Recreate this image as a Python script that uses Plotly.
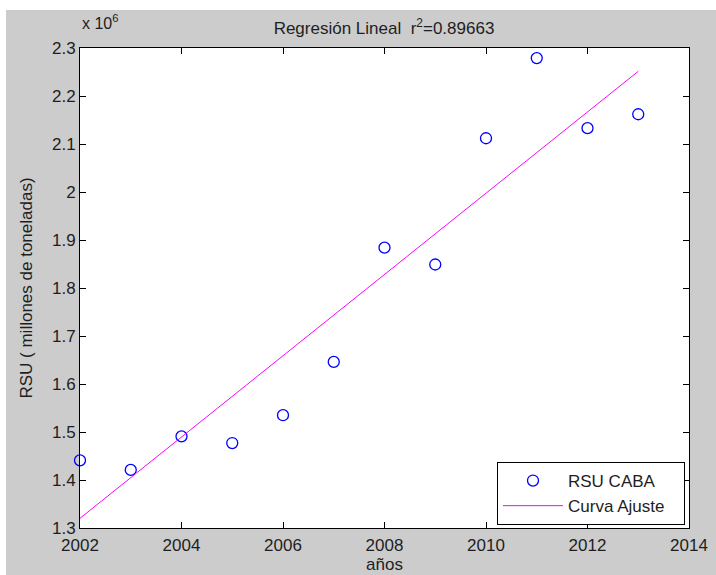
import numpy as np
import plotly.graph_objects as go

# Municipal solid waste (RSU) collected in CABA, tonnes per year
years = [2002, 2003, 2004, 2005, 2006, 2007, 2008, 2009, 2010, 2011, 2012, 2013]
rsu_tonnes = [1441000, 1421000, 1491000, 1477000, 1535000, 1646000,
              1884000, 1849000, 2112000, 2279000, 2133000, 2162000]

x_ticks = [2002, 2004, 2006, 2008, 2010, 2012, 2014]
y_ticks = [1.3, 1.4, 1.5, 1.6, 1.7, 1.8, 1.9, 2.0, 2.1, 2.2, 2.3]
y_tick_text = ["1.3", "1.4", "1.5", "1.6", "1.7", "1.8", "1.9", "2", "2.1", "2.2", "2.3"]

title_text = "Regresión Lineal  r<sup>2</sup>=0.89663"

SCALE = 1e6
x = np.array(years, dtype=float)
y = np.array(rsu_tonnes, dtype=float) / SCALE

# least-squares linear fit
slope, intercept = np.polyfit(x, y, 1)
fit_y = slope * x + intercept

W, H = 716, 575
ML, MR, MT, MB = 80, 27, 48, 47
PW, PH = W - ML - MR, H - MT - MB

def px_to_paper_x(px):
    return (px - ML) / PW

def py_to_paper_y(py):
    return (H - MB - py) / PH

FONT = "Liberation Sans, Arial, sans-serif"
TXT = "#1e1e1e"
PAD = "\u00a0\u00a0\u00a0"  # keeps a little room at the right of the legend text

fig = go.Figure()
fig.add_trace(go.Scatter(
    x=years, y=y, mode="markers", name="RSU CABA",
    marker=dict(symbol="circle-open", size=11, color="#0000ff",
                line=dict(width=1.3, color="#0000ff")),
    cliponaxis=False,
))
fig.add_trace(go.Scatter(
    x=years, y=fit_y, mode="lines", name="Curva Ajuste" + PAD,
    line=dict(color="#ff00ff", width=1),
))

axis_common = dict(
    showgrid=False, zeroline=False, showline=True, linecolor="black",
    linewidth=1, mirror="ticks", ticks="inside", ticklen=6,
    tickcolor="black", tickfont=dict(family=FONT, size=17, color=TXT),
    automargin=False,
)

fig.update_layout(
    width=W, height=H,
    margin=dict(l=ML, r=MR, t=MT, b=MB, pad=0, autoexpand=False),
    paper_bgcolor="#cccccc", plot_bgcolor="white",
    font=dict(family=FONT, size=17, color=TXT),
    title=dict(text=title_text, x=384 / W, xanchor="center",
               y=1 - 28 / H, yanchor="middle",
               font=dict(family=FONT, size=17, color=TXT)),
    xaxis=dict(range=[2002, 2014], tickvals=x_ticks, ticklabelstandoff=2,
               title=dict(text="años", standoff=2,
                          font=dict(family=FONT, size=17, color=TXT)),
               **axis_common),
    yaxis=dict(range=[1.3, 2.3], tickvals=y_ticks, ticktext=y_tick_text,
               title=dict(text="RSU ( millones de toneladas)", standoff=15,
                          font=dict(family=FONT, size=17, color=TXT)),
               **axis_common),
    legend=dict(x=px_to_paper_x(497), y=py_to_paper_y(462),
                xanchor="left", yanchor="top",
                bgcolor="white", bordercolor="black", borderwidth=1,
                font=dict(family=FONT, size=17, color=TXT),
                itemwidth=60, tracegroupgap=0),
    showlegend=True,
)

# exponent label for the y axis
fig.add_annotation(
    text="x 10<sup>6</sup>", xref="paper", yref="paper",
    x=px_to_paper_x(80), y=py_to_paper_y(34), xanchor="left", yanchor="bottom",
    showarrow=False, font=dict(family=FONT, size=16, color=TXT),
)

# white window border strips around the grey figure area
fig.add_shape(type="rect", xref="paper", yref="paper", layer="above",
              x0=px_to_paper_x(0), x1=px_to_paper_x(W),
              y0=py_to_paper_y(10), y1=py_to_paper_y(0),
              fillcolor="white", line=dict(width=0))
fig.add_shape(type="rect", xref="paper", yref="paper", layer="above",
              x0=px_to_paper_x(0), x1=px_to_paper_x(6),
              y0=py_to_paper_y(H), y1=py_to_paper_y(0),
              fillcolor="white", line=dict(width=0))

fig.write_html("out.html")
